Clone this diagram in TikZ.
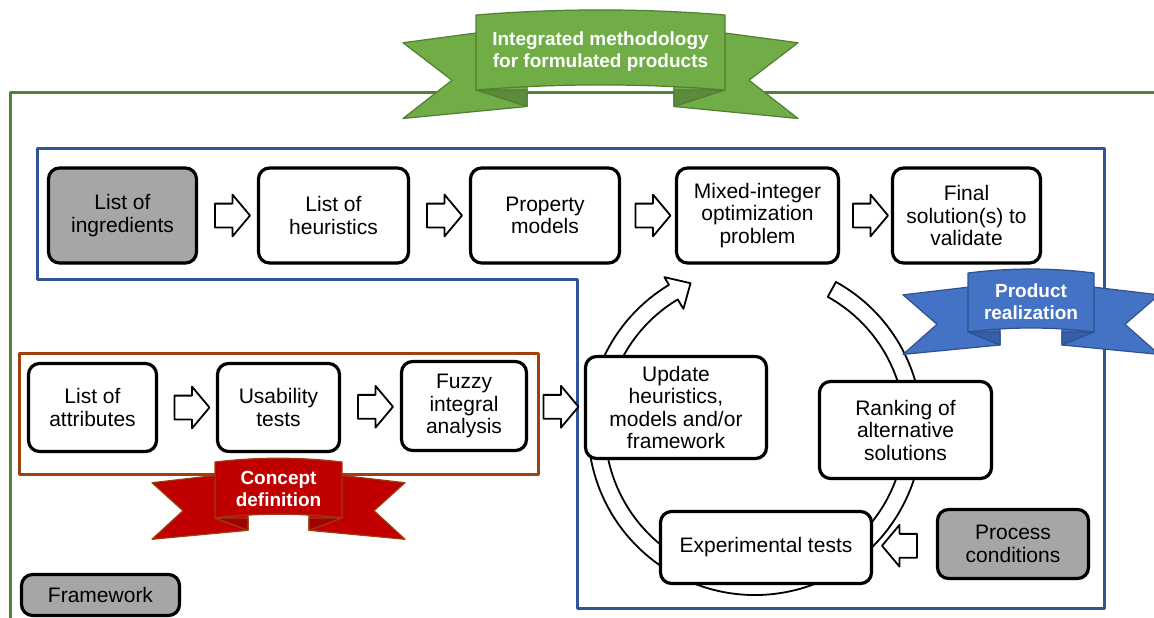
\documentclass[tikz,border=0pt]{standalone}
\usepackage{fontspec}
\setmainfont{Liberation Sans}
\usetikzlibrary{calc,shapes.arrows,shadows}
\definecolor{framegreen}{HTML}{548235}
\definecolor{frameblue}{HTML}{2F5597}
\definecolor{framered}{HTML}{A0410D}
\definecolor{boxgray}{HTML}{A6A6A6}
\definecolor{greenfill}{HTML}{70AD47}
\definecolor{greenline}{HTML}{507E32}
\definecolor{greenfold}{HTML}{5A8C3A}
\definecolor{bluefill}{HTML}{4472C4}
\definecolor{blueline}{HTML}{2F528F}
\definecolor{bluefold}{HTML}{365FA8}
\definecolor{redfill}{HTML}{C00000}
\definecolor{redline}{HTML}{9C3D0E}
\definecolor{redfold}{HTML}{A00000}
\tikzset{
	box/.style={draw, line width=3.2pt, rounded corners=11pt, fill=white, align=center, inner sep=2pt,
		font=\fontsize{21}{22.5}\selectfont, drop shadow={shadow xshift=1.5pt, shadow yshift=-1.5pt, opacity=0.25}},
	graybox/.style={box, fill=boxgray},
	hollowarrow/.style={single arrow, draw, line width=1.8pt, fill=white, minimum height=35pt, minimum width=0pt,
		text height=0pt, text depth=0pt, text width=0pt, inner xsep=0pt, inner ysep=11pt,
		single arrow head extend=9pt, single arrow tip angle=100},
	bannertext/.style={text=white, align=center, font=\bfseries\fontsize{19}{22}\selectfont},
}
% cx, top, height, panel half width, wing half width, notch, fold half width, colour, text
\newcommand{\ribbon}[9]{%
	\pgfmathsetmacro\rbtop{#2+0.37*#3}
	\pgfmathsetmacro\rbbot{#2+1.38*#3}
	\pgfmathsetmacro\rbfold{#2+1.22*#3}
	\pgfmathsetmacro\rbbase{#2+#3}
	\pgfmathsetmacro\rbmid{#2+0.87*#3}
	\pgfmathsetmacro\rbhide{#2+0.24*#3}
	\foreach \s in {-1,1} {
		\draw[fill=#8fill, draw=#8line, line width=1.2pt]
		({#1+(\s)*(#5)},\rbtop) -- ({#1+(\s)*(#4)},\rbhide) -- ({#1+(\s)*(#7)},\rbhide)
		-- ({#1+(\s)*(#7)},\rbfold) -- ({#1+(\s)*(#5)},\rbbot) -- ({#1+(\s)*(#5-#6)},\rbmid) -- cycle;
		\draw[fill=#8fold, draw=#8line, line width=1.2pt]
		({#1+(\s)*(#4)},\rbbase) -- ({#1+(\s)*(#7)},\rbbase) -- ({#1+(\s)*(#7)},\rbfold) -- cycle;
	}
	\draw[fill=#8fill, draw=#8line, line width=1.2pt]
	({#1-#4},#2) .. controls ({#1-#4/3},{#2-0.09*#3}) and ({#1+#4/3},{#2-0.09*#3}) .. ({#1+#4},#2)
	-- ({#1+#4},\rbbase) .. controls ({#1+#4/3},{\rbbase-0.09*#3}) and ({#1-#4/3},{\rbbase-0.09*#3}) .. ({#1-#4},\rbbase) -- cycle;
	\node[bannertext] (#8banner) at (#1,{#2+0.49*#3}) {#9};
}
\begin{document}
\begin{tikzpicture}[x=1pt,y=-1pt,line join=round]
	\useasboundingbox (0,0) rectangle (1154,618);
	% frames
	\draw[framegreen, line width=3pt] (10,625) -- (10,92) -- (1160,92);
	\draw[frameblue, line width=3pt] (37,148) -- (1104,148) -- (1104,608) -- (577,608) -- (577,279) -- (37,279) -- cycle;
	\draw[framered, line width=3pt] (19,353) rectangle (538,474);
	% cycle arrow
	\coordinate (c) at (755,428);
	\draw[line width=1.8pt, fill=white] ($(c)+(-61:167)$) arc[start angle=-61, end angle=239, radius=167]
		-- ($(c)+(239:176)$) -- ($(c)+(246:158.5)$) -- ($(c)+(239:139)$) -- ($(c)+(239:150)$)
		arc[start angle=239, end angle=-61, radius=150] -- cycle;
	% product realization row
	\node[graybox, minimum width=148pt, minimum height=95pt] (ingr) at (122.5,215.5) {List of\\ingredients};
	\node[box, minimum width=150pt, minimum height=95pt] (heur) at (333.5,215.5) {List of\\heuristics};
	\node[box, minimum width=149pt, minimum height=95pt] (prop) at (545,215.5) {Property\\models};
	\node[box, minimum width=162pt, minimum height=95pt] (mip) at (757.5,215.5) {Mixed-integer\\optimization\\problem};
	\node[box, minimum width=148pt, minimum height=95pt] (final) at (966.5,215.5) {Final\\solution(s) to\\validate};
	% concept definition row
	\node[box, minimum width=128pt, minimum height=88pt] (attr) at (92.5,407.5) {List of\\attributes};
	\node[box, minimum width=122pt, minimum height=88pt] (usab) at (278.5,407.5) {Usability\\tests};
	\node[box, minimum width=125pt, minimum height=89pt] (fuzzy) at (464,406) {Fuzzy\\integral\\analysis};
	% loop
	\node[box, minimum width=181pt, minimum height=102pt] (update) at (676,407.5) {Update\\heuristics,\\models and/or\\framework};
	\node[box, minimum width=172pt, minimum height=97pt] (rank) at (905.5,430) {Ranking of\\alternative\\solutions};
	\node[box, minimum width=211pt, minimum height=72pt] (exper) at (766,547.5) {Experimental tests};
	\node[graybox, minimum width=151pt, minimum height=69pt] (process) at (1013,544) {Process\\conditions};
	\node[graybox, minimum width=158pt, minimum height=41pt] (frame) at (100.5,595) {Framework};
	% arrows
	\foreach \a/\b in {ingr/heur,heur/prop,prop/mip,mip/final,attr/usab,usab/fuzzy,fuzzy/update}
		\node[hollowarrow] (\a-\b) at ($(\a.east)!0.5!(\b.west)$) {};
	\node[hollowarrow, shape border rotate=180] (process-exper) at ($(exper.east)!0.5!(process.west)$) {};
	% banners
	\ribbon{600.5}{15}{75}{124.5}{197.5}{49}{73.5}{green}{Integrated methodology\\for formulated products}
	\ribbon{1031}{273}{59}{63}{128}{34}{31}{blue}{Product\\realization}
	\ribbon{278.5}{462}{56}{63.5}{126.5}{31}{30.5}{red}{Concept\\definition}
\end{tikzpicture}
\end{document}
